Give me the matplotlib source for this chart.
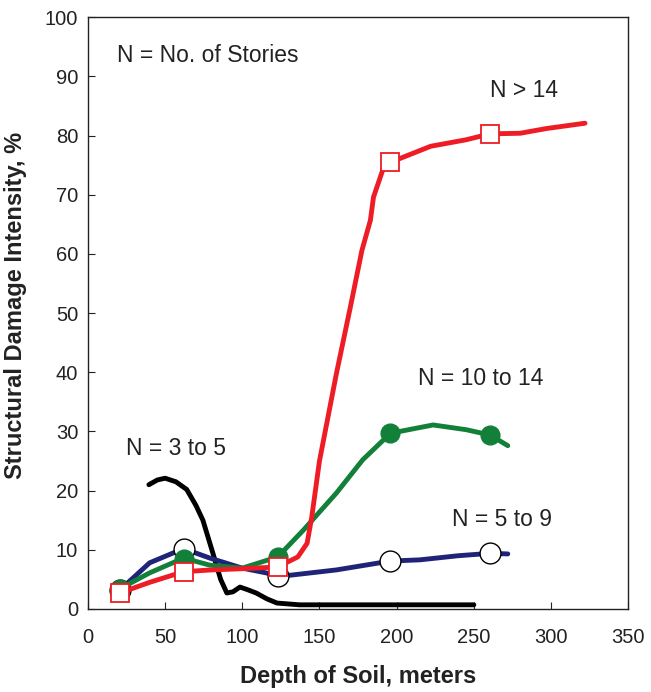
import matplotlib
matplotlib.use("Agg")
import matplotlib.pyplot as plt

plt.rcParams['font.family'] = ['Liberation Sans', 'DejaVu Sans']

# N > 14 stories
red_x = [20.7, 40, 62, 80, 100, 123, 136, 142, 145, 150, 161, 170, 177.5, 183, 185, 191, 196,
         222, 245, 260.5, 280, 297, 322]
red_y = [2.7, 4.5, 6.3, 6.6, 6.8, 7.1, 8.8, 11.1, 15.5, 25, 39.8, 51, 60.6, 65.7, 69.6, 74.2, 75.5,
         78.2, 79.3, 80.3, 80.4, 81.2, 82.1]
red_mx = [20.7, 62, 123, 196, 260.5]
red_my = [2.7, 6.3, 7.1, 75.5, 80.3]

# N = 10 to 14 stories
green_x = [20.7, 40, 62, 79, 100, 123, 139.5, 161, 178, 196, 223.6, 245, 260.5, 272]
green_y = [3.4, 6.1, 8.6, 7.4, 6.9, 8.8, 13.3, 19.6, 25.2, 29.7, 31.1, 30.3, 29.4, 27.6]
green_mx = [20.7, 62, 123, 196, 260.5]
green_my = [3.4, 8.4, 8.8, 29.7, 29.4]

# N = 5 to 9 stories
blue_x = [20.7, 40, 62, 79, 100, 123, 131, 161, 196, 215, 240, 260.5, 272]
blue_y = [3.2, 7.8, 10.2, 8.6, 6.9, 5.7, 5.7, 6.6, 8.1, 8.3, 9.0, 9.4, 9.3]
blue_mx = [20.7, 62, 123, 196, 260.5]
blue_my = [3.2, 10.2, 5.5, 8.1, 9.4]

# N = 3 to 5 stories
black_x = [39.5, 45, 50, 57, 64, 70, 74.5, 81, 86, 90, 94, 98.5, 103, 109, 116, 122.5, 137, 250]
black_y = [21.0, 21.8, 22.1, 21.5, 20.2, 17.5, 15.0, 9.4, 5.0, 2.7, 2.9, 3.7, 3.3, 2.7, 1.7, 1.0, 0.7, 0.7]

x_ticks = [0, 50, 100, 150, 200, 250, 300, 350]
y_ticks = [0, 10, 20, 30, 40, 50, 60, 70, 80, 90, 100]

fig = plt.figure(figsize=(6.51, 6.92), dpi=100)
ax = fig.add_axes([0.135, 0.12, 0.83, 0.855])

lw = 3.5
ax.plot(black_x, black_y, color='black', lw=lw, solid_capstyle='round', zorder=2)
ax.plot(blue_x, blue_y, color='#1f2478', lw=lw, solid_capstyle='round', zorder=3)
ax.plot(green_x, green_y, color='#138039', lw=lw, solid_capstyle='round', zorder=4)
ax.plot(red_x, red_y, color='#ee1c25', lw=lw, solid_capstyle='round', zorder=5)

ax.plot(blue_mx, blue_my, ls='none', marker='o', ms=15, mfc='white', mec='black', mew=1.0, zorder=3.5)
ax.plot(green_mx, green_my, ls='none', marker='o', ms=13.5, mfc='#138039', mec='#138039', zorder=4.5)
ax.plot(red_mx, red_my, ls='none', marker='s', ms=13.5, mfc='white', mec='#ee1c25', mew=1.3, zorder=5.5)

ax.set_xlim(0, 350)
ax.set_ylim(0, 100)
ax.set_xticks(x_ticks)
ax.set_yticks(y_ticks)
ax.tick_params(direction='in', length=5, labelsize=14.5, colors='#222222', labelcolor='#222222')
ax.tick_params(axis='x', pad=14)
ax.tick_params(axis='y', pad=7)
for s in ax.spines.values():
    s.set_linewidth(1.0)
    s.set_color('#222222')

ax.set_xlabel('Depth of Soil, meters', fontsize=17, fontweight='bold', color='#222222')
ax.set_ylabel('Structural Damage Intensity, %', fontsize=17, fontweight='bold', color='#222222')
ax.xaxis.set_label_coords(0.5, -0.094)
ax.yaxis.set_label_coords(-0.113, 0.5135)

tk = dict(fontsize=16.5, color='#222222', va='center', ha='left')
ax.text(19, 93.6, 'N = No. of Stories', **tk)
ax.text(260.5, 87.6, 'N > 14', **tk)
ax.text(214, 39.0, 'N = 10 to 14', **tk)
ax.text(236, 15.2, 'N = 5 to 9', **tk)
ax.text(24.5, 27.2, 'N = 3 to 5', **tk)

fig.savefig('out.png', dpi=100)
